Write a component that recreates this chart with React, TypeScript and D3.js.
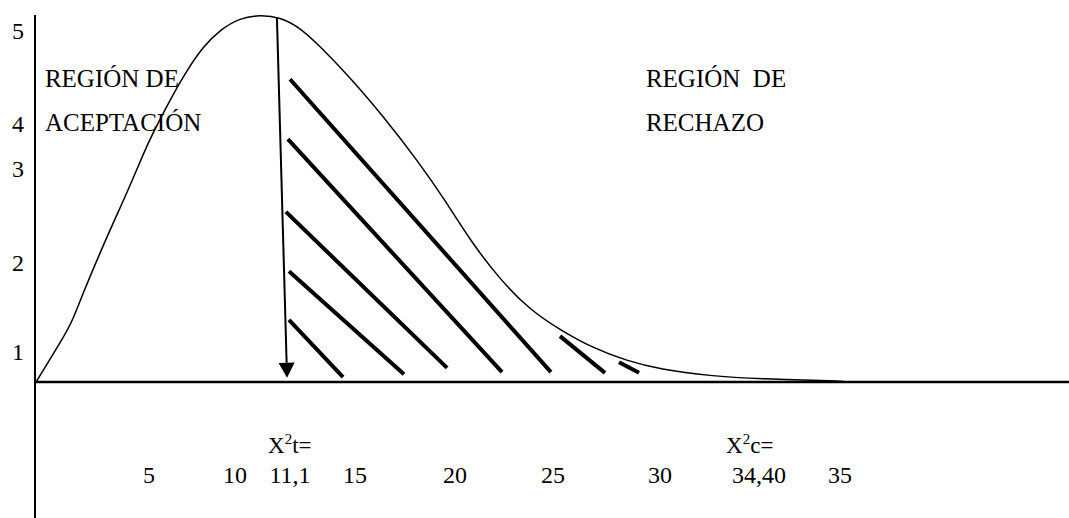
import React from 'react';
import * as d3 from 'd3';

const W = 1069;
const H = 518;

// density curve (x in chi-square-ish units, y in arbitrary units)
const curveX = [0.05, 1.3, 1.76, 2.23, 3.02, 3.62, 4.27, 5.11, 5.48, 6.27, 7.06, 7.8, 8.59, 9.52, 10.44, 11.37, 12.3, 13.09, 14.62, 16.15, 17.73, 19.03, 20.19, 21.59, 22.98, 24.37, 25.9, 27.48, 29.01, 31.33, 33.66, 37.51, 37.6];
const curveY = [0, 0.62, 0.88, 1.26, 1.83, 2.25, 2.68, 3.29, 3.53, 4.0, 4.42, 4.75, 4.99, 5.16, 5.2, 5.17, 5.02, 4.8, 4.32, 3.77, 3.15, 2.58, 2.01, 1.45, 1.02, 0.74, 0.48, 0.3, 0.18, 0.085, 0.043, 0.014, 0];

// hatch strokes in the rejection area
const hatchX1 = [11.84, 11.74, 11.65, 11.79, 11.79, 24.37, 27.11];
const hatchY1 = [4.29, 3.44, 2.41, 1.57, 0.88, 0.65, 0.28];
const hatchX2 = [23.95, 21.68, 19.13, 17.13, 14.3, 26.46, 28.04];
const hatchY2 = [0.14, 0.14, 0.2, 0.11, 0.07, 0.13, 0.13];

// critical value arrow
const arrowFrom = [11.23, 5.17];
const arrowTo = [11.7, 0.06];

// tick labels (hand placed in the original)
const xTickLabels = ['5', '10', '11,1', '15', '20', '25', '30', '34,40', '35'];
const xTickPos = [5.29, 9.28, 11.84, 14.86, 19.5, 24.05, 29.01, 33.61, 37.37];
const yTickLabels = ['5', '4', '3', '2', '1'];
const yTickPos = [4.98, 3.66, 3.02, 1.69, 0.42];

const statLabels = ['t=', 'c='];
const statPos = [10.82, 32.08];

const regionLines = [['REGIÓN DE', 'ACEPTACIÓN'], ['REGIÓN  DE', 'RECHAZO']];
const regionX = [0.46, 28.36];
const regionY = [4.18, 3.56];

export default function App() {
  const x = d3.scaleLinear().domain([0, 48]).range([35, W]);
  const y = d3.scaleLinear().domain([0, 5.2]).range([382, 15]);

  const pts: [number, number][] = curveX.map((v, i) => [v, curveY[i]]);
  const line = d3.line<[number, number]>()
    .x(d => x(d[0]))
    .y(d => y(d[1]))
    .curve(d3.curveBasis);

  const x0 = x(0);
  const y0 = y(0);

  const ax1 = x(arrowFrom[0]), ay1 = y(arrowFrom[1]);
  const ax2 = x(arrowTo[0]), ay2 = y(arrowTo[1]);
  const head = 15;
  const ang = Math.atan2(ay2 - ay1, ax2 - ax1);
  const bx = ax2 - head * Math.cos(ang), by = ay2 - head * Math.sin(ang);
  const px = -Math.sin(ang) * 8, py = Math.cos(ang) * 8;

  const txt: React.CSSProperties = {
    whiteSpace: 'pre',
    fontFamily: 'Liberation Serif, DejaVu Serif, serif',
  };

  return (
    <div style={{ position: 'fixed', left: 0, top: 0 }}>
      <svg width={W} height={H} style={{ display: 'block', background: '#fff' }}>
        {/* axes */}
        <line x1={x0} x2={x0} y1={y(5.2)} y2={H} stroke="#000" strokeWidth={2} />
        <line x1={x0} x2={W} y1={y0} y2={y0} stroke="#000" strokeWidth={2.6} />

        {/* curve */}
        <path d={line(pts) || ''} fill="none" stroke="#000" strokeWidth={1.5} />

        {/* hatching */}
        {hatchX1.map((_, i) => (
          <line key={i} x1={x(hatchX1[i])} y1={y(hatchY1[i])} x2={x(hatchX2[i])} y2={y(hatchY2[i])}
            stroke="#000" strokeWidth={4} />
        ))}

        {/* arrow */}
        <line x1={ax1} y1={ay1} x2={bx} y2={by} stroke="#000" strokeWidth={2} />
        <polygon points={`${ax2},${ay2} ${bx + px},${by + py} ${bx - px},${by - py}`} fill="#000" />

        {/* y labels */}
        {yTickLabels.map((t, i) => (
          <text key={t} x={x0 - 17} y={y(yTickPos[i]) + 8} fontSize={24} textAnchor="middle" style={txt}>{t}</text>
        ))}

        {/* x labels */}
        {xTickLabels.map((t, i) => (
          <text key={t} x={x(xTickPos[i])} y={y0 + 101} fontSize={24} textAnchor="middle" style={txt}>{t}</text>
        ))}

        {/* statistic labels */}
        {statLabels.map((t, i) => (
          <text key={t} x={x(statPos[i])} y={y0 + 71} fontSize={23} style={txt}>
            X<tspan fontSize={15} dy={-9}>2</tspan><tspan dy={9}>{t}</tspan>
          </text>
        ))}

        {/* region labels */}
        {regionLines.map((lines, i) => lines.map((t, j) => (
          <text key={`${i}-${j}`} x={x(regionX[i])} y={y(regionY[j])} fontSize={25} style={txt}>{t}</text>
        )))}
      </svg>
    </div>
  );
}
